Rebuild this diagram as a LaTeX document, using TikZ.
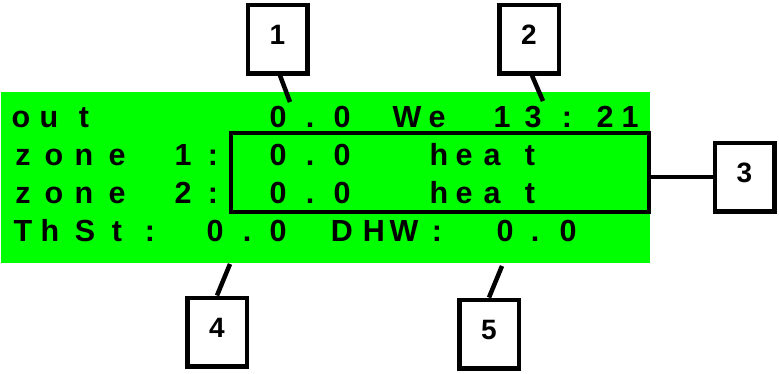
\documentclass[tikz,border=0pt]{standalone}
\usepackage{fontspec}
\setmainfont{Liberation Sans}
\begin{document}
\begin{tikzpicture}[x=1pt,y=-1pt,
  lcd/.style={font=\fontsize{30.5}{32}\selectfont\bfseries, anchor=base, inner sep=0pt},
  callout/.style={draw, line width=4.5pt, fill=white, minimum width=59.5pt,
    minimum height=68.5pt, inner sep=0pt, text height=21pt, text depth=10pt,
    font=\fontsize{28}{30}\selectfont\bfseries},
  lead/.style={line width=4.5pt}]
\definecolor{lcdgreen}{RGB}{0,255,0}
\useasboundingbox (0,0) rectangle (779,373);

% display background
\fill[lcdgreen] (1,92) rectangle (650,263);

% display characters, one cell each
\foreach \c/\x [count=\i] in {o/21,u/49,t/84,0/278,./310,0/342,W/407,e/437,1/502,3/533,:/567,2/605,1/630}
  \node[lcd] (ra\i) at (\x,127) {\c};
\foreach \c/\x [count=\i] in {z/23,o/54,n/84,e/117,1/183,:/213,0/278,./310,0/342,h/439,e/464,a/492,t/530}
  \node[lcd] (rb\i) at (\x,165) {\c};
\foreach \c/\x [count=\i] in {z/23,o/54,n/84,e/117,2/183,:/213,0/278,./310,0/342,h/439,e/464,a/492,t/530}
  \node[lcd] (rc\i) at (\x,203.5) {\c};
\foreach \c/\x [count=\i] in {T/23,h/50,S/85,t/117,:/150,0/215,./247,0/278,D/342,H/374,W/404,:/437,0/505,./535,0/568}
  \node[lcd] (rd\i) at (\x,241.5) {\c};

% frame around the two zone rows
\node[draw, line width=4.5pt, minimum width=418pt, minimum height=79pt, inner sep=0pt] (zones) at (440,172.5) {};

% callout boxes
\node[callout] (b1) at (277.5,39) {1};
\node[callout] (b2) at (529,39) {2};
\node[callout] (b3) at (744.5,177) {3};
\node[callout] (b4) at (217,332) {4};
\node[callout] (b5) at (489,334) {5};

% leader lines
\coordinate (e1) at (290,102);
\coordinate (e2) at (543,101);
\coordinate (e4) at (230,264);
\coordinate (e5) at (502,266);
\draw[lead] ([xshift=2.5pt]b1.south) -- (e1);
\draw[lead] ([xshift=3pt]b2.south) -- (e2);
\draw[lead] (b3.west) -- (b3.west -| zones.east);
\draw[lead] (b4.north) -- (e4);
\draw[lead] (b5.north) -- (e5);
\end{tikzpicture}
\end{document}
